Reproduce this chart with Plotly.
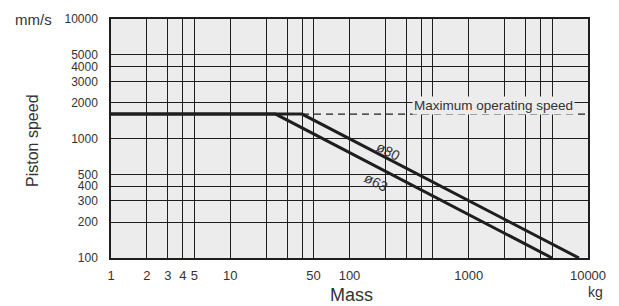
import math
import plotly.graph_objects as go

# ---- data ----
mass_ticks = [1, 2, 3, 4, 5, 10, 20, 30, 40, 50, 100, 200, 300, 400, 500,
              1000, 2000, 3000, 4000, 5000, 10000]
mass_labels = ["1", "2", "3", "4", "5", "10", "", "", "", "50", "100", "", "", "", "",
               "1000", "", "", "", "", "10000"]
speed_ticks = [100, 200, 300, 400, 500, 1000, 2000, 3000, 4000, 5000, 10000]
speed_labels = ["100", "200", "300", "400", "500", "1000", "2000", "3000", "4000", "5000", "10000"]

phi63_mass = [1, 24, 5000]
phi63_speed = [1600, 1600, 100]
phi80_mass = [1, 40, 8400]
phi80_speed = [1600, 1600, 100]
max_mass = [40, 10000]
max_speed = [1600, 1600]

FONT = "Liberation Sans, Arial, Helvetica, sans-serif"
TXT = "#333333"
PLOTBG = "#ececec"
DARK = "#1e1e1e"

fig = go.Figure()
fig.add_trace(go.Scatter(x=max_mass, y=max_speed, mode="lines",
                         line=dict(color=DARK, width=1.2, dash="7px,5px"),
                         hoverinfo="skip", showlegend=False))
fig.add_trace(go.Scatter(x=phi63_mass, y=phi63_speed, mode="lines",
                         line=dict(color=DARK, width=3), showlegend=False))
fig.add_trace(go.Scatter(x=phi80_mass, y=phi80_speed, mode="lines",
                         line=dict(color=DARK, width=3), showlegend=False))

fig.update_layout(
    width=619, height=306,
    margin=dict(l=111, r=31, t=15, b=48),
    paper_bgcolor="white", plot_bgcolor=PLOTBG,
    font=dict(family=FONT, color=TXT, size=13),
    xaxis=dict(type="log", range=[0, 4], tickmode="array",
               tickvals=mass_ticks, ticktext=mass_labels,
               showgrid=True, gridcolor=DARK, gridwidth=1.3,
               showline=True, linecolor=DARK, linewidth=1.5, mirror=True,
               ticks="", ticklabelstandoff=5, zeroline=False,
               tickfont=dict(size=13, color=TXT)),
    yaxis=dict(type="log", range=[2, 4], tickmode="array",
               tickvals=speed_ticks, ticktext=speed_labels,
               showgrid=True, gridcolor=DARK, gridwidth=1.3,
               showline=True, linecolor=DARK, linewidth=1.5, mirror=True,
               ticks="", ticklabelstandoff=9, zeroline=False,
               tickfont=dict(size=12, color=TXT)),
)

def px_to_paper_x(px):
    return (px - 111) / (619 - 111 - 31)

def px_to_paper_y(py):
    return (306 - 48 - py) / (306 - 15 - 48)

def paper_text(text, px, py, size, angle=0):
    return dict(text=text, x=px_to_paper_x(px), y=px_to_paper_y(py),
                xref="paper", yref="paper", xanchor="center", yanchor="middle",
                showarrow=False, textangle=angle, font=dict(size=size, color=TXT))

annots = [
    dict(text="Maximum operating speed", x=math.log10(1600), y=math.log10(1880),
         xref="x", yref="y", showarrow=False, bgcolor=PLOTBG,
         xanchor="center", yanchor="middle",
         font=dict(size=13.5, color=TXT), borderpad=1),
    dict(text="ø80", x=2.323, y=2.893, xref="x", yref="y", showarrow=False,
         xanchor="center", yanchor="middle",
         textangle=27, font=dict(size=14, color=TXT)),
    dict(text="ø63", x=2.222, y=2.636, xref="x", yref="y", showarrow=False,
         xanchor="center", yanchor="middle",
         textangle=27, font=dict(size=14, color=TXT)),
    paper_text("mm/s", 33, 16, 15),
    paper_text("kg", 595, 293, 14),
    paper_text("Mass", 351, 296, 18),
    paper_text("Piston speed", 33, 139, 16, -90),
]
fig.update_layout(annotations=annots)

fig.write_html("out.html", config={"displayModeBar": False},
               post_script="document.body.style.margin='0px';")
